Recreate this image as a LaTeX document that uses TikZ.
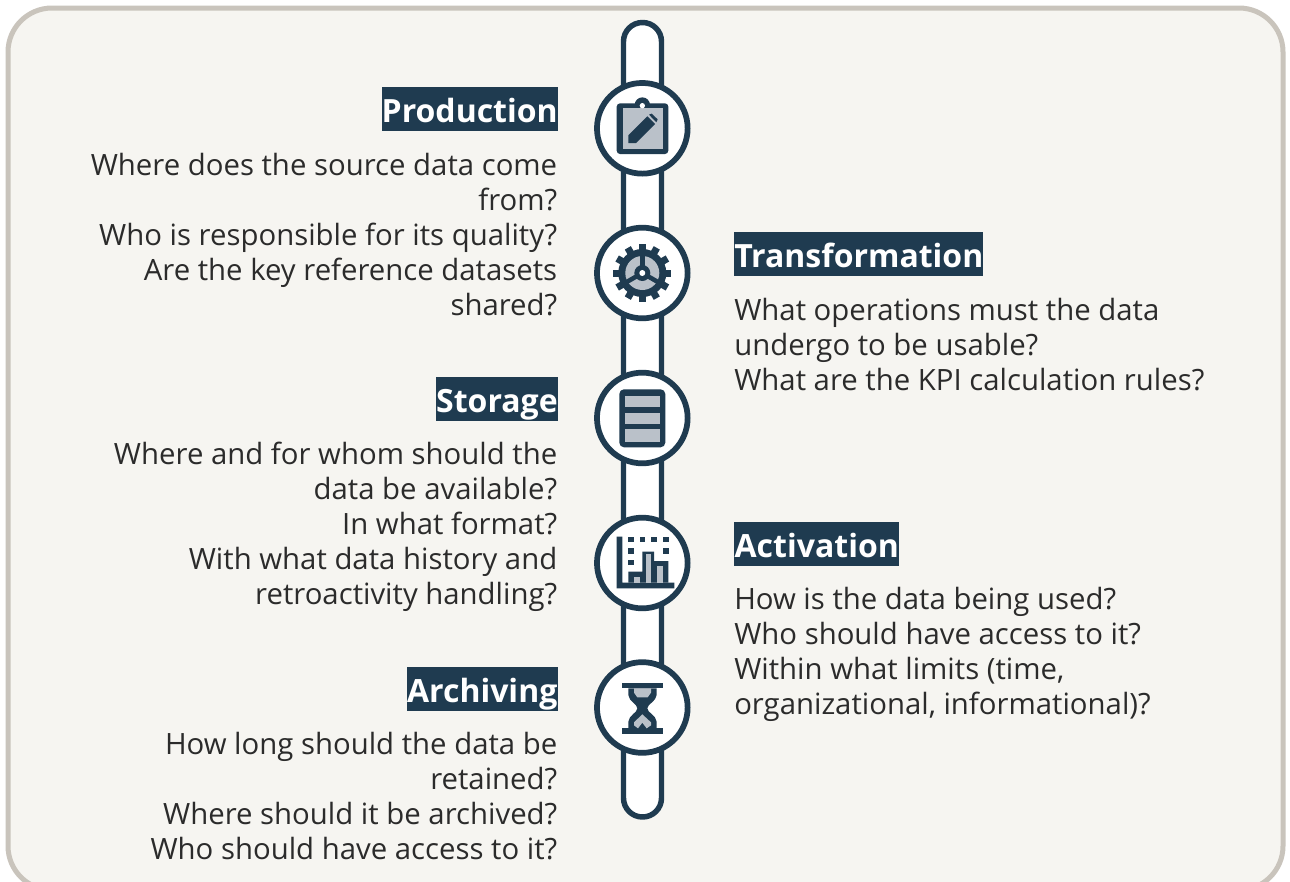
\documentclass[tikz,border=0pt]{standalone}
\usepackage{fontspec}
\setmainfont{Open Sans}
\definecolor{navy}{HTML}{1F3B50}
\definecolor{slategrey}{HTML}{BAC1C9}
\definecolor{paper}{HTML}{F6F5F1}
\definecolor{edge}{HTML}{C9C4BC}
\definecolor{ink}{HTML}{2B2B2B}
\tikzset{
  panel/.style={draw=edge,line width=3.75pt,fill=paper,rounded corners=33pt},
  pill/.style={draw=navy,line width=4.1pt,fill=white,rounded corners=14.2pt},
  disc/.style={circle,draw=navy,line width=4.3pt,fill=white,minimum size=68pt,inner sep=0pt},
  tagbox/.style={fill=navy,text=white,inner sep=0pt,font=\fontsize{24}{28}\selectfont\bfseries,text height=26.6pt,text depth=6.4pt},
  tagleft/.style={tagbox,anchor=west},
  tagright/.style={tagbox,anchor=east},
  bodyright/.style={anchor=north east,align=right,inner sep=0pt,text=ink,font=\fontsize{22}{26.25}\selectfont},
  bodyleft/.style={anchor=north west,align=left,inner sep=0pt,text=ink,font=\fontsize{22}{26.25}\selectfont},
  darkfill/.style={fill=navy,draw=none},
  greyfill/.style={fill=slategrey,draw=none},
  whitefill/.style={fill=white,draw=none}
}
\begin{document}
\begin{tikzpicture}[x=0.75pt,y=-0.75pt]
\useasboundingbox (0,0) rectangle (1290,882);
\clip (0,0) rectangle (1290,882);
\fill[white] (0,0) rectangle (1290,882);
\draw[panel] (8,8) rectangle (1283,890);
\draw[pill] (623.5,22.5) rectangle (661.5,817);
\node[disc] (d1) at (642.3,128.3) {};
\node[disc] (d2) at (642.3,273) {};
\node[disc] (d3) at (642.3,418) {};
\node[disc] (d4) at (642.3,563) {};
\node[disc] (d5) at (642.3,707.5) {};
% clipboard
\begin{scope}[shift={(580,10)},x=0.25pt,y=-0.25pt]
  \fill[darkfill] (187,285) circle (23);
  \fill[darkfill,rounded corners=2.5pt] (110,280) rectangle (265,432);
  \fill[greyfill] (128,295) rectangle (250,418);
  \fill[whitefill] (187,287) circle (8);
  \fill[darkfill] (145,399) -- (145,376) -- (202,319) -- (225,342) -- (168,399) -- cycle;
  \fill[darkfill] (207,314) -- (215,311) -- (233,328) -- (229,337) -- cycle;
\end{scope}
% gear
\foreach \a in {0,30,...,330}{
  \fill[darkfill,rotate around={\a:(642.3,273)}] (638.8,244) rectangle (645.8,256);
}
\fill[darkfill] (642.3,273) circle (24);
\fill[greyfill] (642.3,273) circle (17);
\foreach \a in {-90,30,150}{
  \draw[navy,line width=3.4pt] (642.3,273) -- ++(\a:18);
}
\fill[darkfill] (642.3,273) circle (8);
\fill[whitefill] (642.3,273) circle (3);
% storage
\fill[darkfill,rounded corners=3.5pt] (619.3,389.3) rectangle (665.3,447.3);
\fill[greyfill] (625,395.7) rectangle (660,407.3);
\fill[greyfill] (625,412.7) rectangle (660,424);
\fill[greyfill] (625,429.3) rectangle (660,441.7);
% chart
\begin{scope}[shift={(580,360)},x=0.25pt,y=-0.25pt]
  \fill[darkfill] (110,530) -- (127,530) -- (127,668) -- (283,668) -- (283,685) -- (110,685) -- cycle;
  \foreach \px/\py in {152/538,187/538,222/538,257/538,152/572,257/572,152/607}{
    \fill[darkfill] (\px-8.5,\py-8.5) rectangle (\px+8.5,\py+8.5);
  }
  \fill[darkfill] (145,668) -- (145,635) -- (187,635) -- (187,575) -- (222,575) -- (222,603) -- (265,603) -- (265,668) -- cycle;
  \fill[greyfill] (162,650) rectangle (180,668);
  \fill[greyfill] (197,583) rectangle (212,668);
  \fill[greyfill] (232,617) rectangle (248,668);
\end{scope}
% hourglass
\begin{scope}[shift={(580,650)},x=0.25pt,y=-0.25pt]
  \fill[darkfill] (127,98) rectangle (248,115);
  \fill[darkfill] (127,235) rectangle (248,252);
  \fill[darkfill] (145,115) -- (145,135) .. controls (147,155) and (172,162) .. (172,175) .. controls (172,188) and (147,195) .. (145,215) -- (145,235) -- (230,235) -- (230,215) .. controls (228,195) and (202,188) .. (202,175) .. controls (202,162) and (228,155) .. (230,135) -- (230,115) -- cycle;
  \fill[greyfill] (162,115) -- (213,115) -- (213,128) -- (203,142) -- (172,142) -- (162,128) -- cycle;
  \fill[greyfill] (187,193) -- (213,217) -- (213,226) -- (200,235) -- (187,218) -- (174,235) -- (162,226) -- (162,217) -- cycle;
\end{scope}
% tags
\node[tagright,minimum width=132pt] (t1) at (558,109) {Production};
\node[tagleft,minimum width=186.75pt] (t2) at (734,254) {Transformation};
\node[tagright,minimum width=90.75pt] (t3) at (558,399) {Storage};
\node[tagleft,minimum width=123.75pt] (t4) at (734,544) {Activation};
\node[tagright,minimum width=113.25pt] (t5) at (558,689) {Archiving};
% texts
\node[bodyright] (b1) at (557.5,152.5) {Where does the source data come\\from?\\Who is responsible for its quality?\\Are the key reference datasets\\shared?};
\node[bodyleft] (b2) at (734,297.5) {What operations must the data\\undergo to be usable?\\What are the KPI calculation rules?};
\node[bodyright] (b3) at (557.5,442.2) {Where and for whom should the\\data be available?\\In what format?\\With what data history and\\retroactivity handling?};
\node[bodyleft] (b4) at (734,587.2) {How is the data being used?\\Who should have access to it?\\Within what limits (time,\\organizational, informational)?};
\node[bodyright] (b5) at (557.5,732.2) {How long should the data be\\retained?\\Where should it be archived?\\Who should have access to it?};
\end{tikzpicture}
\end{document}
